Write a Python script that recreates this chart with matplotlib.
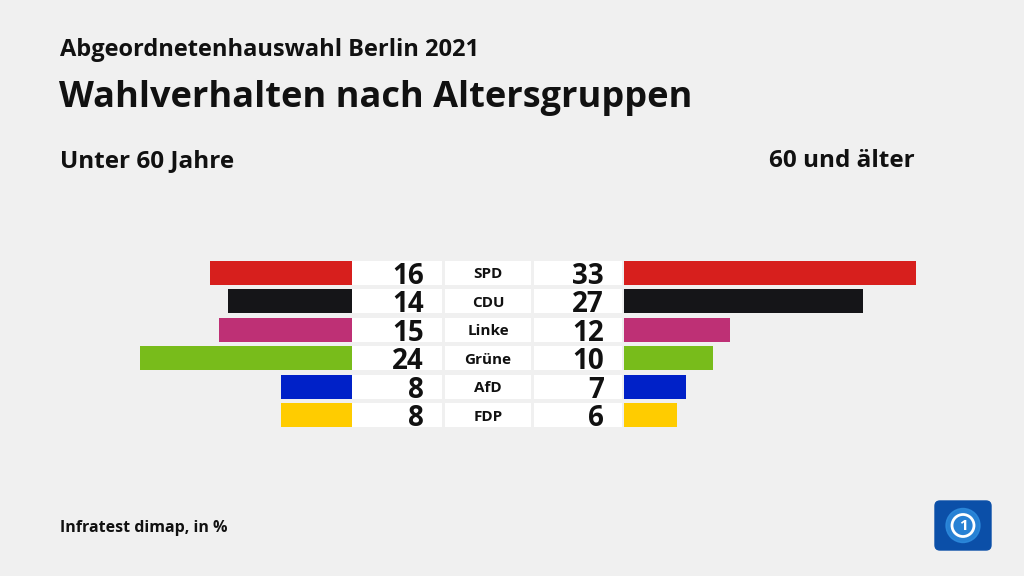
import matplotlib.pyplot as plt
from matplotlib.patches import FancyBboxPatch, Circle
import numpy as np

plt.rcParams['font.family'] = ['Open Sans', 'DejaVu Sans']

parties = ['SPD', 'CDU', 'Linke', 'Grüne', 'AfD', 'FDP']
under_60 = [16, 14, 15, 24, 8, 8]
over_60 = [33, 27, 12, 10, 7, 6]
colors = ['#d71f1d', '#151518', '#be3075', '#78bc1b', '#0021c8', '#ffcc00']

bg = '#f0f0f0'
W, H = 1024, 576
px_per_unit = 8.85

fig = plt.figure(figsize=(W / 100, H / 100), dpi=100, facecolor=bg)

# rows span from px 258.5 to 429.5
top_px, row_h = 258.5, 28.5
n = len(parties)
bottom = 1 - (top_px + n * row_h) / H
height = n * row_h / H
y = np.arange(n)
bar_h = 24 / row_h

# left bars (grow to the left from px 352)
axl = fig.add_axes([0, bottom, 352 / W, height])
axl.barh(y, under_60, color=colors, height=bar_h)
axl.set_xlim(352 / px_per_unit, 0)
axl.set_ylim(n - 0.5, -0.5)
axl.axis('off')

# right bars (grow to the right from px 624)
axr = fig.add_axes([624 / W, bottom, (W - 624) / W, height])
axr.barh(y, over_60, color=colors, height=bar_h)
axr.set_xlim(0, (W - 624) / px_per_unit)
axr.set_ylim(n - 0.5, -0.5)
axr.axis('off')

# middle: white boxes with values and party names
axm = fig.add_axes([352 / W, bottom, (624 - 352) / W, height])
axm.set_xlim(352, 624)
axm.set_ylim(n - 0.5, -0.5)
axm.axis('off')
for left, w in [(352, 90), (445, 86), (534, 88)]:
    axm.barh(y, w, left=left, height=bar_h, color='white')
for i in range(n):
    axm.text(424, i, str(under_60[i]), ha='right', va='center_baseline',
             fontsize=20, fontweight='bold', color='#111111')
    axm.text(488, i, parties[i], ha='center', va='center_baseline',
             fontsize=11, fontweight='bold', color='#111111')
    axm.text(604, i, str(over_60[i]), ha='right', va='center_baseline',
             fontsize=20, fontweight='bold', color='#111111')

# titles
fig.text(60 / W, 1 - 50 / H, 'Abgeordnetenhauswahl Berlin 2021', fontsize=17,
         fontweight='bold', va='center', color='#111111')
fig.text(59 / W, 1 - 98 / H, 'Wahlverhalten nach Altersgruppen', fontsize=26,
         fontweight='bold', va='center', color='#111111')
fig.text(60 / W, 1 - 161 / H, 'Unter 60 Jahre', fontsize=17.5,
         fontweight='bold', va='center', color='#111111')
fig.text(915 / W, 1 - 161 / H, '60 und älter', fontsize=17.5,
         fontweight='bold', va='center', ha='right', color='#111111')
fig.text(60 / W, 1 - 528 / H, 'Infratest dimap, in %', fontsize=11.5,
         fontweight='bold', va='center', color='#111111')

# logo
axlogo = fig.add_axes([932 / W, 1 - 551 / H, 62 / W, 51 / H])
axlogo.set_xlim(0, 62)
axlogo.set_ylim(0, 51)
axlogo.axis('off')
axlogo.add_patch(FancyBboxPatch((3, 1), 56, 49, boxstyle='round,pad=0,rounding_size=5',
                                color='#0b4fa8'))
axlogo.add_patch(Circle((31, 25.5), 17, color='#2f8ee0', alpha=0.8))
axlogo.add_patch(Circle((31, 25.5), 11, fill=False, ec='white', lw=2))
axlogo.text(31, 25.5, '1', ha='center', va='center', fontsize=11,
            fontweight='bold', color='white')

fig.savefig('out.png', dpi=100, facecolor=bg)
